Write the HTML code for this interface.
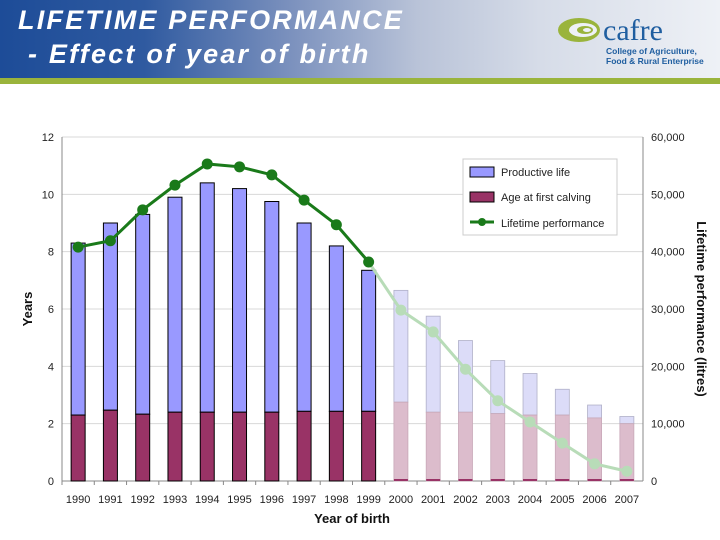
<!DOCTYPE html>
<html><head><meta charset="utf-8"><style>
body{margin:0;width:720px;height:540px;background:#fff;overflow:hidden;font-family:"Liberation Sans",sans-serif;position:relative}
#hdr{position:absolute;left:0;top:0;width:720px;height:78px;background:linear-gradient(90deg,#1d4c98 0%,#2f5aa0 20%,#7a90bd 40%,#b9c3d8 58%,#d6dce8 75%,#eef1f6 100%)}
#bar{position:absolute;left:0;top:78px;width:720px;height:6px;background:#9ab43c}
.t{position:absolute;color:#fff;font-weight:bold;font-style:italic;font-size:27px;letter-spacing:2.2px;white-space:nowrap}
</style></head><body>
<div id="hdr"></div>
<div id="bar"></div>
<div class="t" style="left:18px;top:5px">LIFETIME PERFORMANCE</div>
<div class="t" style="left:28px;top:39px">- Effect of year of birth</div>
<svg style="position:absolute;left:556px;top:10px" width="160" height="60">
<ellipse cx="23" cy="20" rx="21" ry="12" fill="#9ab43c"/><ellipse cx="27" cy="20" rx="14" ry="7" fill="#eef1f6"/><ellipse cx="29" cy="20" rx="8" ry="4" fill="#9ab43c"/><ellipse cx="31" cy="20" rx="4" ry="2" fill="#eef1f6"/>
<text x="47" y="30" font-family="Liberation Serif,serif" font-size="30" fill="#1f5ea0">cafre</text>
<text x="50" y="44" font-size="8.5" fill="#1f5ea0" font-weight="bold">College of Agriculture,</text>
<text x="50" y="54" font-size="8.5" fill="#1f5ea0" font-weight="bold">Food &amp; Rural Enterprise</text>
</svg>
<svg id="chart" style="position:absolute;left:0;top:0" width="720" height="540"></svg>
<script>
const years=["1990","1991","1992","1993","1994","1995","1996","1997","1998","1999","2000","2001","2002","2003","2004","2005","2006","2007"];
const totalYears=[8.3,9.0,9.3,9.9,10.4,10.2,9.75,9.0,8.2,7.35,6.65,5.75,4.9,4.2,3.75,3.2,2.65,2.25];
const ageFirstCalving=[2.3,2.47,2.33,2.4,2.4,2.4,2.4,2.43,2.43,2.43,2.75,2.4,2.4,2.35,2.3,2.3,2.2,2.0];
const lifetime=[40800,41900,47300,51600,55300,54800,53400,49000,44700,38200,29800,26000,19500,14000,10300,6600,3000,1700];
const leftTicks=[0,2,4,6,8,10,12];
const rightTicks=[0,10000,20000,30000,40000,50000,60000];
const actualCount=10;
const X0=62,X1=643,Y0=481,Y1=137;
const svg=document.getElementById('chart');const NS='http://www.w3.org/2000/svg';
function mk(t,a,p){const e=document.createElementNS(NS,t);for(const k in a)e.setAttribute(k,a[k]);(p||svg).appendChild(e);return e;}
const bw=(X1-X0)/years.length;
const xc=i=>X0+bw*(i+0.5);
const yL=v=>Y0-(v/12)*(Y0-Y1);
const yR=v=>Y0-(v/60000)*(Y0-Y1);
leftTicks.forEach(v=>{
 if(v>0){const g=mk('line',{x1:X0,x2:X1,y1:yL(v),y2:yL(v),stroke:'#d8d8d8','stroke-width':1});}
 const t=mk('text',{x:X0-8,y:yL(v)+4,'text-anchor':'end','font-size':11,fill:'#222'});t.textContent=v;
 
});
rightTicks.forEach(v=>{
 const t=mk('text',{x:X1+8,y:yR(v)+4,'font-size':11,fill:'#222'});t.textContent=v===0?'0':v.toLocaleString('en-US');
 
});
mk('line',{x1:X0,x2:X0,y1:Y1,y2:Y0,stroke:'#888'});
mk('line',{x1:X1,x2:X1,y1:Y1,y2:Y0,stroke:'#888'});
mk('line',{x1:X0,x2:X1,y1:Y0,y2:Y0,stroke:'#888'});
years.forEach((y,i)=>{
 const x=xc(i),w=14,act=i<actualCount;
 mk('line',{x1:X0+bw*i,x2:X0+bw*i,y1:Y0,y2:Y0+4,stroke:'#888'});
 const top=mk('rect',{x:x-w/2,y:yL(totalYears[i]),width:w,height:yL(ageFirstCalving[i])-yL(totalYears[i]),fill:act?'#9999ff':'#dcdcf8',stroke:act?'#000':'#b0b0c8','stroke-width':act?1:0.8});
 
 const bot=mk('rect',{x:x-w/2,y:yL(ageFirstCalving[i]),width:w,height:Y0-yL(ageFirstCalving[i]),fill:act?'#993366':'#dcbccc',stroke:act?'#000':'#c8a8b8','stroke-width':act?1:0.8});
 
 if(!act){mk('rect',{x:x-w/2,y:Y0-2,width:w,height:2,fill:'#993366'});}
 const t=mk('text',{x:x,y:Y0+22,'text-anchor':'middle','font-size':11,fill:'#222'});t.textContent=y;
 
});
const pts=lifetime.map((v,i)=>[xc(i),yR(v)]);
const la=pts.slice(0,actualCount).map(p=>p.join(',')).join(' ');
const lb=pts.slice(actualCount-1).map(p=>p.join(',')).join(' ');
const pb=mk('polyline',{points:lb,fill:'none',stroke:'#b8dcb8','stroke-width':3});

const pa=mk('polyline',{points:la,fill:'none',stroke:'#1a7a1a','stroke-width':3});

pts.forEach((p,i)=>{const c=mk('circle',{cx:p[0],cy:p[1],r:5.5,fill:i<actualCount?'#1a7a1a':'#b8dcb8'});
 });
const yt=mk('text',{x:32,y:309,'text-anchor':'middle','font-size':13,'font-weight':'bold',fill:'#111',transform:'rotate(-90 32 309)'});yt.textContent='Years';

const rt=mk('text',{x:697,y:309,'text-anchor':'middle','font-size':13,'font-weight':'bold',fill:'#111',transform:'rotate(90 697 309)'});rt.textContent='Lifetime performance (litres)';

const xt=mk('text',{x:352,y:523,'text-anchor':'middle','font-size':13,'font-weight':'bold',fill:'#111'});xt.textContent='Year of birth';

const lg=mk('g',{});
mk('rect',{x:463,y:159,width:154,height:76,fill:'#fff',stroke:'#ccc'},lg);
mk('rect',{x:470,y:167,width:24,height:10,fill:'#9999ff',stroke:'#000'},lg);
mk('rect',{x:470,y:192,width:24,height:10,fill:'#993366',stroke:'#000'},lg);
mk('line',{x1:470,x2:494,y1:222,y2:222,stroke:'#1a7a1a','stroke-width':3},lg);
mk('circle',{cx:482,cy:222,r:4,fill:'#1a7a1a'},lg);
[['Productive life',176],['Age at first calving',201],['Lifetime performance',227]].forEach(a=>{
 const t=mk('text',{x:501,y:a[1],'font-size':11,fill:'#222'},lg);t.textContent=a[0];
 });
</script>
</body></html>
